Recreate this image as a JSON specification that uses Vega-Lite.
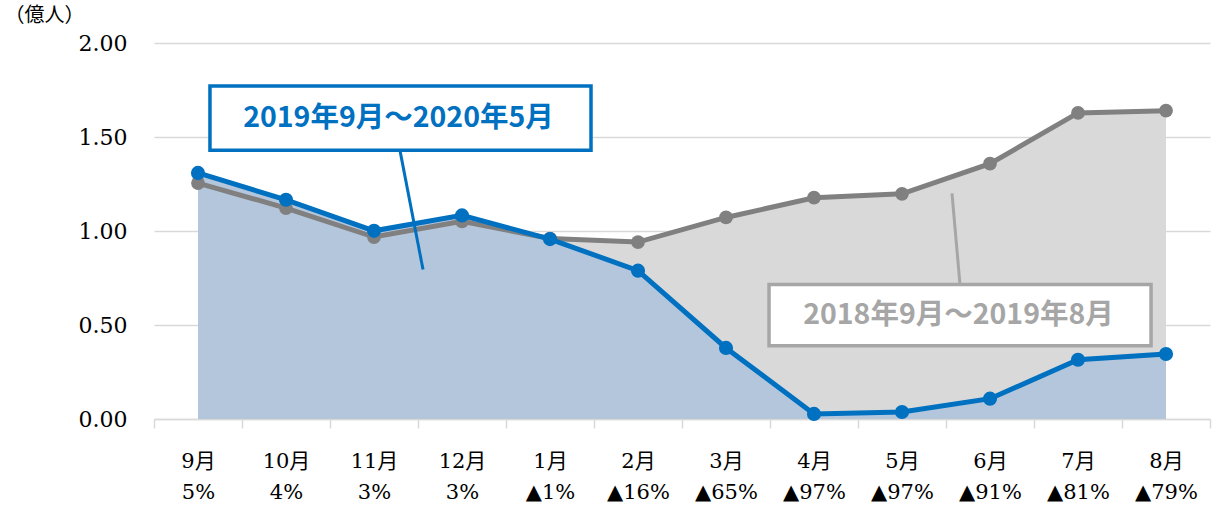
{
  "$schema": "https://vega.github.io/schema/vega-lite/v6.json",
  "width": 1056,
  "height": 376,
  "autosize": "none",
  "padding": {"left": 154, "top": 43, "right": 5, "bottom": 88},
  "background": "white",
  "config": {"view": {"stroke": null}},
  "datasets": {
    "main": [
      {"label": "9月|5%", "gray": 1.255, "blue": 1.309},
      {"label": "10月|4%", "gray": 1.122, "blue": 1.166},
      {"label": "11月|3%", "gray": 0.968, "blue": 1.001},
      {"label": "12月|3%", "gray": 1.051, "blue": 1.083},
      {"label": "1月|▲1%", "gray": 0.96, "blue": 0.957},
      {"label": "2月|▲16%", "gray": 0.941, "blue": 0.789},
      {"label": "3月|▲65%", "gray": 1.072, "blue": 0.378},
      {"label": "4月|▲97%", "gray": 1.177, "blue": 0.027},
      {"label": "5月|▲97%", "gray": 1.198, "blue": 0.037},
      {"label": "6月|▲91%", "gray": 1.358, "blue": 0.108},
      {"label": "7月|▲81%", "gray": 1.628, "blue": 0.315},
      {"label": "8月|▲79%", "gray": 1.64, "blue": 0.346}
    ],
    "notes": [
      {"series": "blue", "label": "2019年9月〜2020年5月", "bx": 0.136, "bx2": 4.466, "by": 1.771, "by2": 1.429, "tx": 2.278, "ty": 1.6, "lx": 2.295, "ly": 1.429, "lx2": 2.557, "ly2": 0.795},
      {"series": "gray", "label": "2018年9月〜2019年8月", "bx": 6.489, "bx2": 10.83, "by": 0.715, "by2": 0.389, "tx": 8.642, "ty": 0.552, "lx": 8.568, "ly": 1.2, "lx2": 8.659, "ly2": 0.715}
    ]
  },
  "layer": [
    {
      "data": {"name": "main"},
      "encoding": {
        "x": {
          "field": "label",
          "type": "ordinal",
          "sort": null,
          "scale": {"type": "band", "paddingInner": 0, "paddingOuter": 0},
          "axis": {
            "title": null,
            "labelExpr": "datum.value ? split(datum.value, '|') : ''",
            "tickBand": "extent",
            "grid": false,
            "domainColor": "#d9d9d9",
            "domainWidth": 1.5,
            "tickColor": "#d9d9d9",
            "tickWidth": 1.5,
            "tickSize": 9,
            "labelFont": "DejaVu Serif, Noto Sans CJK JP",
            "labelFontSize": 21,
            "labelColor": "#000000",
            "labelLineHeight": 31,
            "labelPadding": 22,
            "labelAngle": 0,
            "labelBaseline": "top"
          }
        }
      },
      "layer": [
        {
          "mark": {"type": "area", "color": "#d9d9d9", "opacity": 1},
          "encoding": {
            "y": {
              "field": "gray",
              "type": "quantitative",
              "title": "（億人）",
              "scale": {"domain": [0, 2], "nice": false},
              "axis": {
                "title": "（億人）",
                "titleAngle": 0,
                "titleAlign": "left",
                "titleBaseline": "top",
                "titleX": -150,
                "titleY": -38,
                "titleFont": "DejaVu Serif, Noto Sans CJK JP",
                "titleFontSize": 20,
                "titleFontWeight": "normal",
                "titleColor": "#000000",
                "values": [0, 0.5, 1, 1.5, 2],
                "format": ".2f",
                "domain": false,
                "ticks": false,
                "gridColor": "#d9d9d9",
                "gridWidth": 1.5,
                "labelFont": "DejaVu Serif",
                "labelFontSize": 22,
                "labelColor": "#000000",
                "labelPadding": 27
              }
            }
          }
        },
        {
          "mark": {"type": "area", "color": "#b4c6dc", "opacity": 1},
          "encoding": {"y": {"field": "blue", "type": "quantitative", "title": "（億人）"}}
        },
        {
          "mark": {"type": "line", "color": "#808080", "strokeWidth": 5, "point": {"filled": true, "color": "#808080", "size": 190, "opacity": 1}},
          "encoding": {"y": {"field": "gray", "type": "quantitative", "title": "（億人）"}}
        },
        {
          "mark": {"type": "line", "color": "#0070c0", "strokeWidth": 5, "point": {"filled": true, "color": "#0070c0", "size": 200, "opacity": 1}},
          "encoding": {"y": {"field": "blue", "type": "quantitative", "title": "（億人）"}}
        }
      ]
    },
    {
      "data": {"name": "notes"},
      "layer": [
        {
          "mark": {"type": "rule", "strokeWidth": 3},
          "encoding": {
            "x": {"field": "lx", "type": "quantitative", "scale": {"domain": [-0.5, 11.5], "nice": false, "zero": false}, "axis": null},
            "x2": {"field": "lx2"},
            "y": {"field": "ly", "type": "quantitative", "title": "（億人）"},
            "y2": {"field": "ly2"},
            "color": {"field": "series", "type": "nominal", "scale": {"domain": ["blue", "gray"], "range": ["#0070c0", "#a6a6a6"]}, "legend": null}
          }
        },
        {
          "mark": {"type": "rect", "fill": "white", "strokeWidth": 3.5},
          "encoding": {
            "x": {"field": "bx", "type": "quantitative", "axis": null},
            "x2": {"field": "bx2"},
            "y": {"field": "by", "type": "quantitative", "title": "（億人）"},
            "y2": {"field": "by2"},
            "stroke": {"field": "series", "type": "nominal", "scale": {"domain": ["blue", "gray"], "range": ["#0070c0", "#a6a6a6"]}, "legend": null}
          }
        },
        {
          "mark": {"type": "text", "font": "Noto Sans CJK JP", "fontWeight": "bold", "fontSize": 28.5, "align": "center", "baseline": "middle"},
          "encoding": {
            "x": {"field": "tx", "type": "quantitative", "axis": null},
            "y": {"field": "ty", "type": "quantitative", "title": "（億人）"},
            "text": {"field": "label"},
            "color": {"field": "series", "type": "nominal", "legend": null}
          }
        }
      ]
    }
  ],
  "resolve": {"scale": {"x": "independent"}}
}
